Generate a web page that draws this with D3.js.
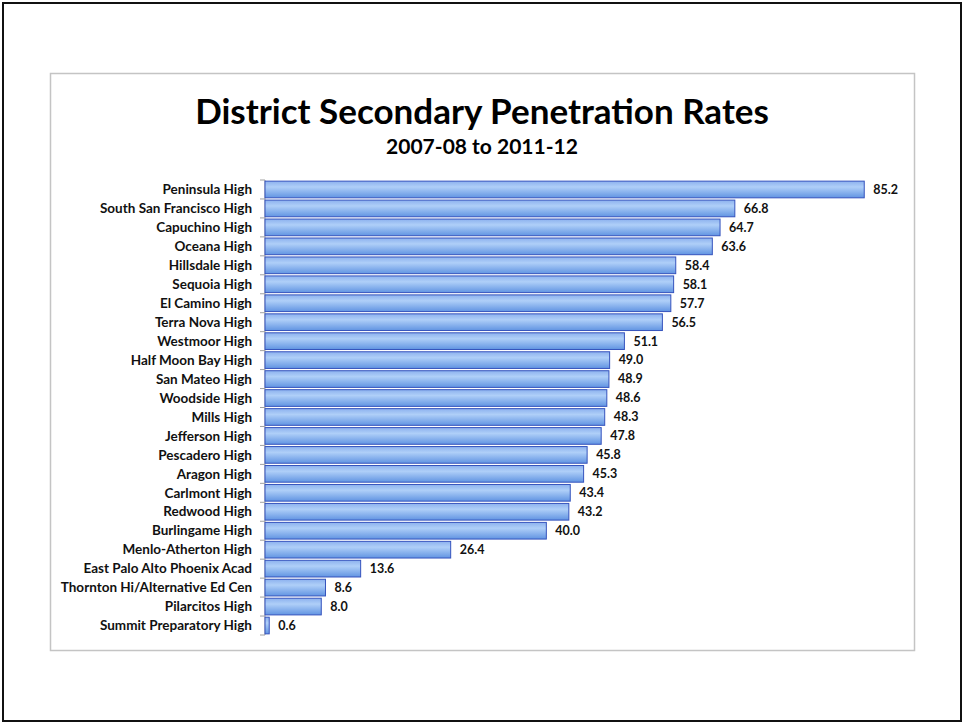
<!DOCTYPE html>
<html><head><meta charset="utf-8">
<script src="https://cdn.jsdelivr.net/npm/d3@7/dist/d3.min.js"></script>
<style>body{margin:0;background:#fff}svg{display:block}</style>
</head><body>
<script>
const schools = ["Peninsula High","South San Francisco High","Capuchino High","Oceana High","Hillsdale High","Sequoia High","El Camino High","Terra Nova High","Westmoor High","Half Moon Bay High","San Mateo High","Woodside High","Mills High","Jefferson High","Pescadero High","Aragon High","Carlmont High","Redwood High","Burlingame High","Menlo-Atherton High","East Palo Alto Phoenix Acad","Thornton Hi/Alternative Ed Cen","Pilarcitos High","Summit Preparatory High"];
const rates = [85.2,66.8,64.7,63.6,58.4,58.1,57.7,56.5,51.1,49.0,48.9,48.6,48.3,47.8,45.8,45.3,43.4,43.2,40.0,26.4,13.6,8.6,8.0,0.6];
const titleText = "District Secondary Penetration Rates";
const subtitleText = "2007-08 to 2011-12";

const W = 965, H = 723;
const font = "Lato, 'Open Sans', sans-serif";
const svg = d3.select("body").append("svg").attr("width", W).attr("height", H);

svg.append("rect").attr("x",3).attr("y",3).attr("width",958).attr("height",718)
  .attr("fill","#fff").attr("stroke","#111").attr("stroke-width",2);
svg.append("rect").attr("x",50.5).attr("y",73.5).attr("width",864).attr("height",577)
  .attr("fill","#fff").attr("stroke","#c4c4c4").attr("stroke-width",1.5);

const defs = svg.append("defs");
const grad = defs.append("linearGradient").attr("id","barGrad").attr("x1",0).attr("y1",0).attr("x2",0).attr("y2",1);
grad.append("stop").attr("offset","0%").attr("stop-color","#8cb1ee");
grad.append("stop").attr("offset","35%").attr("stop-color","#afcff8");
grad.append("stop").attr("offset","100%").attr("stop-color","#6194e2");

svg.append("text").attr("x",482).attr("y",124).attr("text-anchor","middle")
  .attr("font-family",font).attr("font-weight","bold").attr("font-size",35).attr("fill","#000")
  .text(titleText);
svg.append("text").attr("x",482).attr("y",154).attr("text-anchor","middle")
  .attr("font-family",font).attr("font-weight","bold").attr("font-size",21).attr("fill","#000")
  .text(subtitleText);

const x = d3.scaleLinear().domain([0, 90]).range([265, 898]);
const y = d3.scaleBand().domain(schools).range([180, 635]).paddingInner(0.12).paddingOuter(0.06);

const g = svg.append("g");
g.append("line").attr("x1",265).attr("x2",265).attr("y1",180).attr("y2",635).attr("stroke","#a0a0a0");
const step = (635-180)/schools.length;
d3.range(schools.length+1).forEach(i=>{
  const yy = 180 + i*step;
  g.append("line").attr("x1",260).attr("x2",265).attr("y1",yy).attr("y2",yy).attr("stroke","#a0a0a0");
});

svg.selectAll("rect.bar").data(schools).join("rect").attr("class","bar")
  .attr("x", x(0)).attr("y", d=>y(d)).attr("width", (d,i)=>x(rates[i])-x(0)).attr("height", y.bandwidth())
  .attr("fill","url(#barGrad)").attr("stroke","#3553bd").attr("stroke-width",1);

svg.selectAll("text.cat").data(schools).join("text").attr("class","cat")
  .attr("x",252).attr("y",d=>y(d)+y.bandwidth()/2).attr("dy","0.35em").attr("text-anchor","end")
  .attr("font-family",font).attr("font-weight","bold").attr("font-size",13.5).attr("fill","#111")
  .text(d=>d);

svg.selectAll("text.val").data(schools).join("text").attr("class","val")
  .attr("x",(d,i)=>x(rates[i])+9).attr("y",d=>y(d)+y.bandwidth()/2).attr("dy","0.35em")
  .attr("font-family",font).attr("font-weight","bold").attr("font-size",12.5).attr("fill","#111")
  .text((d,i)=>rates[i].toFixed(1));
</script>
</body></html>
